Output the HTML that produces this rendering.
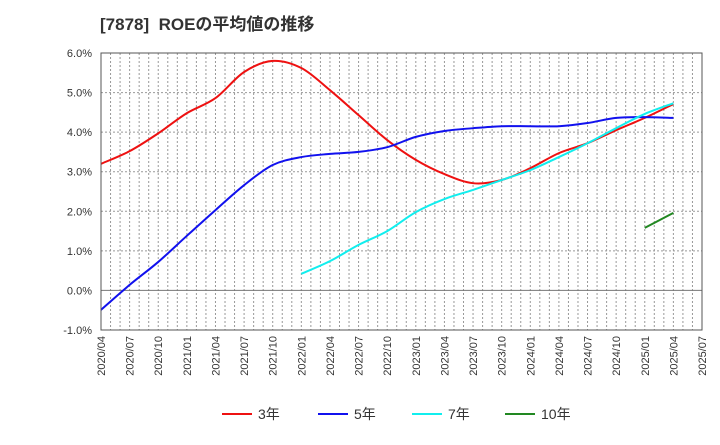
<!DOCTYPE html>
<html><head><meta charset="utf-8"><style>
body{margin:0;background:#fff;font-family:"Liberation Sans","Noto Sans CJK JP",sans-serif;}
</style></head><body>
<svg id="c" width="720" height="440" xmlns="http://www.w3.org/2000/svg">
<text x="100" y="30" font-size="17" font-weight="bold" fill="#333" font-family="Liberation Sans, Noto Sans CJK JP, sans-serif" xml:space="preserve">[7878]  ROEの平均値の推移</text>
<g id="grid"></g><g id="series"></g><g id="axes"></g><g id="legend"></g>
</svg>
<script>
const xLabels=["2020/04","2020/07","2020/10","2021/01","2021/04","2021/07","2021/10","2022/01","2022/04","2022/07","2022/10","2023/01","2023/04","2023/07","2023/10","2024/01","2024/04","2024/07","2024/10","2025/01","2025/04","2025/07"];
const yTicks=[-1,0,1,2,3,4,5,6];
const roe3=[3.2,3.52,3.97,4.48,4.86,5.52,5.8,5.62,5.06,4.43,3.8,3.3,2.94,2.71,2.79,3.09,3.47,3.72,4.05,4.36,4.71];
const roe5=[-0.49,0.14,0.72,1.38,2.03,2.66,3.17,3.37,3.45,3.5,3.62,3.88,4.03,4.1,4.15,4.15,4.15,4.23,4.36,4.38,4.36];
const roe7=[0.42,0.74,1.15,1.5,1.98,2.31,2.54,2.79,3.04,3.37,3.72,4.1,4.46,4.73];
const roe10=[1.58,1.96];
const start3=0,start5=0,start7=7,start10=19;
const L=101,R=702,T=53,B=330;
const q=(R-L)/21;
const X=i=>L+i*q;
const Y=v=>T+(6-v)*(B-T)/7;
const NS="http://www.w3.org/2000/svg";
function mk(t,a,p){const e=document.createElementNS(NS,t);for(const k in a)e.setAttribute(k,a[k]);p.appendChild(e);return e;}
const grid=document.getElementById('grid'),axes=document.getElementById('axes'),ser=document.getElementById('series'),leg=document.getElementById('legend');
mk('rect',{x:L,y:T,width:R-L,height:B-T,fill:'#fff'},grid);
for(let m=1;m<63;m++){const x=L+m*q/3;const l=mk('line',{x1:x,x2:x,y1:T,y2:B,stroke:'#999','stroke-dasharray':'2,2','stroke-width':1},grid);

}
yTicks.forEach(v=>{const y=Y(v);const l=mk('line',{x1:L,x2:R,y1:y,y2:y,stroke:v===0?'#777':'#999','stroke-dasharray':v===0?'none':'2,2','stroke-width':1},grid);


const t=mk('text',{x:92,y:y+4,'font-size':11,'text-anchor':'end',fill:'#333'},axes);t.textContent=v.toFixed(1)+'%';

});
xLabels.forEach((s,i)=>{const x=X(i);const t=mk('text',{x:0,y:0,'font-size':11,'text-anchor':'end',fill:'#333',transform:`translate(${x+4},${B+6}) rotate(-90)`},axes);t.textContent=s;

});
const frame=mk('rect',{x:L,y:T,width:R-L,height:B-T,fill:'none',stroke:'#555','stroke-width':1},axes);


function path(vals,st){const p=vals.map((v,i)=>[X(st+i),Y(v)]);let d=`M${p[0][0]},${p[0][1]}`;
for(let i=0;i<p.length-1;i++){const p0=p[i-1]||p[i],p1=p[i],p2=p[i+1],p3=p[i+2]||p2;
d+=` C${p1[0]+(p2[0]-p0[0])/6},${p1[1]+(p2[1]-p0[1])/6} ${p2[0]-(p3[0]-p1[0])/6},${p2[1]-(p3[1]-p1[1])/6} ${p2[0]},${p2[1]}`;}return d;}
const defs=[[roe3,start3,'#ee1111','3年','series-3y'],[roe5,start5,'#1111ee','5年','series-5y'],[roe7,start7,'#11eeee','7年','series-7y'],[roe10,start10,'#228822','10年','series-10y']];
defs.forEach((d,k)=>{const e=mk('path',{d:path(d[0],d[1]),fill:'none',stroke:d[2],'stroke-width':2},ser);


const lx=[222,318,412,505][k];
const ll=mk('line',{x1:lx,x2:lx+30,y1:414,y2:414,stroke:d[2],'stroke-width':2},leg);


const lt=mk('text',{x:lx+36,y:419,'font-size':14,fill:'#333'},leg);lt.textContent=d[3];

});
</script>
</body></html>
